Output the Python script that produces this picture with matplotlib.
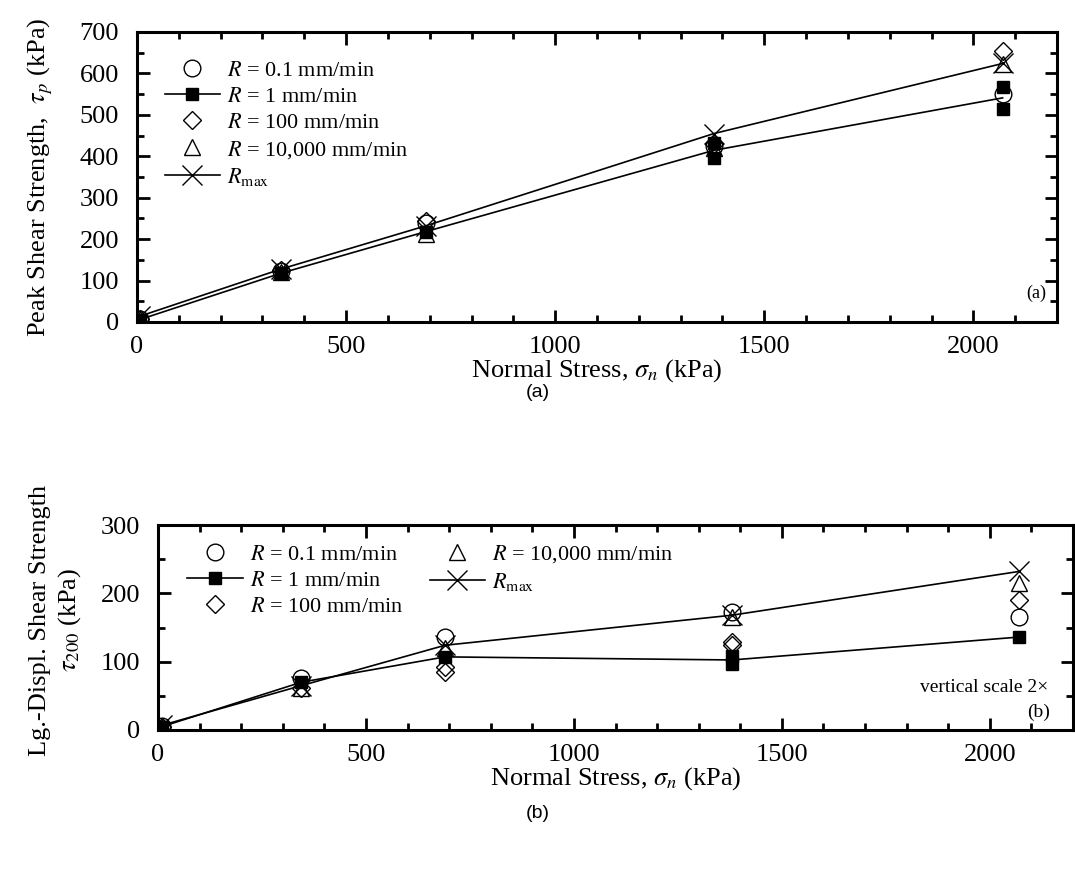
import numpy as np
import matplotlib
matplotlib.use('Agg')
import matplotlib.pyplot as plt
from matplotlib.lines import Line2D
from matplotlib.ticker import MultipleLocator

plt.rcParams['font.family'] = ['Liberation Serif', 'DejaVu Serif']
plt.rcParams['mathtext.fontset'] = 'stix'

# (a) peak shear strength, kPa
sig_a_01 = [7, 345, 690, 1380, 2070]
tau_a_01 = [8, 122, 240, 425, 550]
sig_a_1 = [7, 345, 690, 1380, 1380, 2070, 2070]
tau_a_1 = [6, 118, 218, 432, 397, 567, 515]
sig_a_100 = [7, 345, 690, 1380, 2070]
tau_a_100 = [8, 125, 245, 430, 655]
sig_a_1e4 = [7, 345, 690, 1380, 2070]
tau_a_1e4 = [7, 120, 212, 420, 622]
sig_a_max = [7, 345, 690, 1380, 2070]
tau_a_max = [14, 128, 232, 455, 624]

# (b) large-displacement shear strength, kPa
sig_b_01 = [10, 345, 690, 1380, 2070]
tau_b_01 = [6, 76, 136, 173, 165]
sig_b_1 = [10, 345, 690, 1380, 1380, 2070]
tau_b_1 = [5, 70, 107, 108, 97, 136]
sig_b_100 = [10, 345, 690, 690, 1380, 1380, 2070]
tau_b_100 = [5, 62, 92, 85, 129, 124, 190]
sig_b_1e4 = [10, 345, 690, 1380, 2070]
tau_b_1e4 = [5, 61, 120, 165, 215]
sig_b_max = [10, 345, 690, 1380, 2070]
tau_b_max = [7, 65, 124, 168, 232]

labels = [r'$R$ = 0.1 mm/min', r'$R$ = 1 mm/min', r'$R$ = 100 mm/min',
          r'$R$ = 10,000 mm/min', r'$R_{\mathrm{max}}$']


def mean_line(s, t):
    # R = 1 line goes through the mean of repeated tests
    s = np.asarray(s)
    t = np.asarray(t)
    u = np.unique(s)
    return u, np.array([t[s == v].mean() for v in u])


open_kw = dict(linestyle='none', markerfacecolor='none', markeredgecolor='black',
               markeredgewidth=1.0)


def draw(ax, d01, d1, d100, d1e4, dmax):
    ax.plot(*mean_line(*d1), color='black', lw=1.2, zorder=2)
    ax.plot(*dmax, color='black', lw=1.2, zorder=2)
    ax.plot(*d01, marker='o', ms=12, **open_kw, zorder=3)
    ax.plot(*d100, marker='D', ms=9, **open_kw, zorder=3)
    ax.plot(*d1e4, marker='^', ms=12, **open_kw, zorder=3)
    ax.plot(*d1, marker='s', ms=8, linestyle='none', color='black', zorder=4)
    ax.plot(*dmax, marker='x', ms=14, linestyle='none', color='black',
            markeredgewidth=1.0, zorder=4)


def style(ax, ymax, ymajor):
    ax.set_xlim(0, 2200)
    ax.set_ylim(0, ymax)
    ax.xaxis.set_major_locator(MultipleLocator(500))
    ax.xaxis.set_minor_locator(MultipleLocator(100))
    ax.yaxis.set_major_locator(MultipleLocator(ymajor))
    ax.yaxis.set_minor_locator(MultipleLocator(ymajor / 2))
    ax.tick_params(which='both', direction='in', top=True, right=True,
                   labelsize=19, width=2.0)
    ax.tick_params(axis='x', which='major', pad=10)
    ax.tick_params(axis='y', which='major', pad=13)
    ax.tick_params(which='major', length=9)
    ax.tick_params(which='minor', length=5)
    for sp in ax.spines.values():
        sp.set_linewidth(2.2)


def handles():
    return [
        Line2D([], [], marker='o', ms=12, **open_kw),
        Line2D([], [], marker='s', ms=8, color='black', lw=1.2),
        Line2D([], [], marker='D', ms=9, **open_kw),
        Line2D([], [], marker='^', ms=12, **open_kw),
        Line2D([], [], marker='x', ms=14, color='black', lw=1.2, markeredgewidth=1.0),
    ]


fig = plt.figure(figsize=(10.75, 8.69), dpi=100)

ax1 = fig.add_axes([137 / 1075, 1 - 322 / 869, 920 / 1075, 290 / 869])
draw(ax1, (sig_a_01, tau_a_01), (sig_a_1, tau_a_1), (sig_a_100, tau_a_100),
     (sig_a_1e4, tau_a_1e4), (sig_a_max, tau_a_max))
style(ax1, 700, 100)
ax1.set_xlabel(r'Normal Stress, $\sigma_n$ (kPa)', fontsize=19, labelpad=-0.5)
ax1.legend(handles(), labels, loc='upper left', bbox_to_anchor=(0.030, 0.902),
           frameon=False, fontsize=16, handlelength=2.5, handletextpad=0.3,
           labelspacing=0.25, borderpad=0, borderaxespad=0)
ax1.text(0.988, 0.1, '(a)', transform=ax1.transAxes, ha='right', va='center',
         fontsize=13)
fig.text(40 / 1075, 1 - 177 / 869, r'Peak Shear Strength,  $\tau_p$ (kPa)',
         rotation=90, ha='center', va='center', fontsize=19)

ax2 = fig.add_axes([158 / 1075, 1 - 730 / 869, 915 / 1075, 205 / 869])
draw(ax2, (sig_b_01, tau_b_01), (sig_b_1, tau_b_1), (sig_b_100, tau_b_100),
     (sig_b_1e4, tau_b_1e4), (sig_b_max, tau_b_max))
style(ax2, 300, 100)
ax2.set_xlabel(r'Normal Stress, $\sigma_n$ (kPa)', fontsize=19, labelpad=-0.5)
ax2.legend(handles(), labels, loc='upper left', bbox_to_anchor=(0.032, 0.91),
           ncol=2, frameon=False, fontsize=16, handlelength=2.5,
           handletextpad=0.3, labelspacing=0.25, columnspacing=1.2,
           borderpad=0, borderaxespad=0)
ax2.text(0.973, 0.205, 'vertical scale 2×', transform=ax2.transAxes,
         ha='right', va='center', fontsize=14)
ax2.text(0.975, 0.088, '(b)', transform=ax2.transAxes, ha='right',
         va='center', fontsize=14)
fig.text(40 / 1075, 1 - 620 / 869, 'Lg.-Displ. Shear Strength',
         rotation=90, ha='center', va='center', fontsize=19)
fig.text(70 / 1075, 1 - 620 / 869, r'$\tau_{200}$ (kPa)',
         rotation=90, ha='center', va='center', fontsize=19)

fig.text(538 / 1075, 1 - 393 / 869, '(a)', ha='center', va='center',
         fontsize=14, family='Liberation Sans')
fig.text(538 / 1075, 1 - 813 / 869, '(b)', ha='center', va='center',
         fontsize=14, family='Liberation Sans')

fig.savefig('out.png', dpi=100)
